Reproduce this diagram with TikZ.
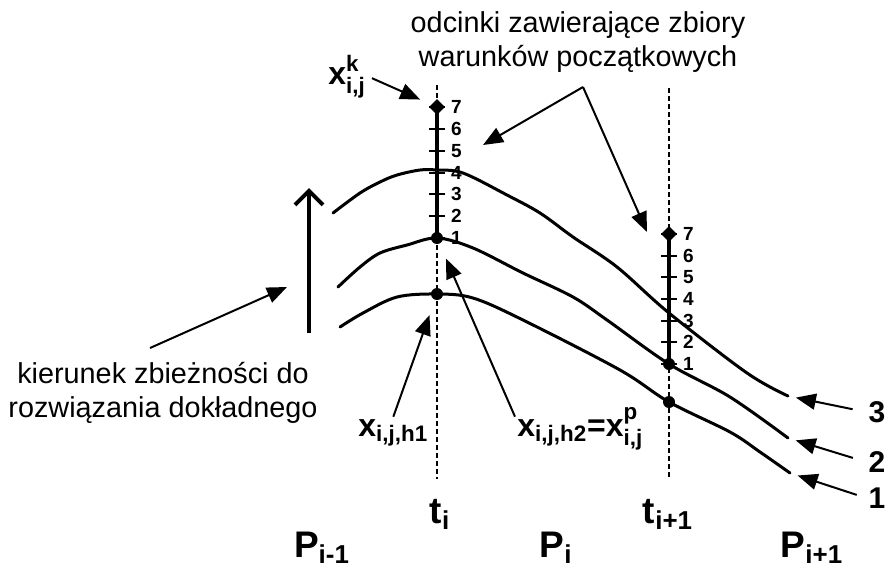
\documentclass[tikz,border=0pt]{standalone}
\usepackage{amsmath}
\usepackage{fontspec}
\setmainfont{Liberation Sans}
\usetikzlibrary{arrows.meta,shapes.geometric}

\begin{document}
\begin{tikzpicture}[x=0.5pt,y=-0.5pt,>=stealth,
 curve/.style={line width=1.5pt,line join=round,line cap=round},
 axis/.style={line width=0.8pt,dash pattern=on 2.5pt off 1.5pt},
 scalebar/.style={line width=2pt},
 tick/.style={line width=1pt},
 ptr/.style={line width=1pt,-{Triangle[length=10pt,width=8pt]}},
 dot/.style={circle,fill=black,inner sep=0pt,minimum size=6pt},
 tip/.style={diamond,fill=black,inner sep=0pt,minimum size=8pt},
 num/.style={font=\fontsize{9.5}{10}\selectfont\bfseries,inner sep=1pt,anchor=west},
 big/.style={font=\fontsize{18.5}{20}\selectfont\bfseries,anchor=base,inner sep=1pt},
 lab/.style={font=\fontsize{16}{18}\selectfont\bfseries,inner sep=1pt,anchor=base west},
 side/.style={font=\fontsize{15}{16}\selectfont\bfseries,inner sep=1pt},
 txt/.style={font=\fontsize{14.4}{17}\selectfont,align=center,inner sep=0pt}]
\useasboundingbox (0,0) rectangle (887,575);

\draw[axis](437,85)--(437,479) (669,88)--(669,479);

\draw[curve] plot[smooth,tension=0.55] coordinates {(333,213) (360,193) (380,182) (397,175) (420,170) (437,170) (463,173) (507,195) (540,213) (573,237) (617,267) (669,313) (747,373) (788,396)};
\draw[curve] plot[smooth,tension=0.55] coordinates {(338,287) (360,267) (380,253) (407,245) (437,238) (473,248) (523,273) (573,297) (607,320) (669,364) (730,397) (788,438)};
\draw[curve] plot[smooth,tension=0.55] coordinates {(340,327) (363,313) (397,297) (437,294) (473,298) (523,320) (620,370) (669,402) (730,432) (760,452) (790,473)};
\coordinate (c3) at (788,396);
\coordinate (c2) at (788,438);
\coordinate (c1) at (790,473);

\draw[scalebar](437,107)--(437,238) (669,234)--(669,364);
\foreach \k in {1,...,7}{
 \draw[tick](429,{238-21.83*(\k-1)})--(445,{238-21.83*(\k-1)})
  node[num] at (448,{238-21.83*(\k-1)}) {\k};
 \draw[tick](661,{364-21.67*(\k-1)})--(677,{364-21.67*(\k-1)})
  node[num] at (680,{364-21.67*(\k-1)}) {\k};
}
\node[tip] (k7) at (437,107) {};
\node[dot] (h2) at (437,238) {};
\node[dot] (h1) at (437,294) {};
\node[tip] (m7) at (669,234) {};
\node[dot] (m1) at (669,364) {};
\node[dot] (m0) at (669,402) {};

\draw[line width=2pt,-{Straight Barb[length=7pt,width=14pt]}](309,333)--(309,188);

\node[txt] (kier) at (163,393) {kierunek zbieżności do\\rozwiązania dokładnego};
\node[txt] (odc) at (578,42) {odcinki zawierające zbiory\\warunków początkowych};
\coordinate (k1) at (150,348);
\coordinate (k2) at (287,287);
\draw[ptr](k1)--(k2);
\coordinate (apex) at (583,87);
\coordinate (s1) at (483,145);
\coordinate (s2) at (647,232);
\draw[ptr](apex)--(s1);
\draw[ptr](apex)--(s2);

\node[lab] (xk) at (326,84) {$\textbf{x}^{\textbf{k}}_{\textbf{i,j}}$};
\node[lab] (xh1) at (356,436) {$\textbf{x}_{\textbf{i,j,h1}}$};
\node[lab] (xh2) at (515,436) {$\textbf{x}_{\textbf{i,j,h2}}\textbf{=}\textbf{x}^{\textbf{p}}_{\textbf{i,j}}$};
\draw[ptr,shorten <=2pt,shorten >=6pt](xk.east)--(k7);
\draw[ptr,shorten >=8pt](xh1.north)--(h1);
\draw[ptr,shorten >=8pt](xh2.west |- xh1.north)--(h2);

\node[side] (l3) at (877,412) {3};
\node[side] (l2) at (877,462) {2};
\node[side] (l1) at (877,498) {1};
\draw[ptr,shorten <=7pt,shorten >=4pt](l3.west)--(c3);
\draw[ptr,shorten <=7pt,shorten >=4pt](l2.west)--(c2);
\draw[ptr,shorten <=5pt,shorten >=4pt](l1.west)--(c1);

\node[big] (ti) at (440,523) {$\textbf{t}_{\textbf{i}}$};
\node[big] (tn) at (668,523) {$\textbf{t}_{\textbf{i+1}}$};
\node[big] (pa) at (322,557) {$\textbf{P}_{\textbf{i-1}}$};
\node[big] (pb) at (556,557) {$\textbf{P}_{\textbf{i}}$};
\node[big] (pc) at (812,557) {$\textbf{P}_{\textbf{i+1}}$};
\end{tikzpicture}
\end{document}
